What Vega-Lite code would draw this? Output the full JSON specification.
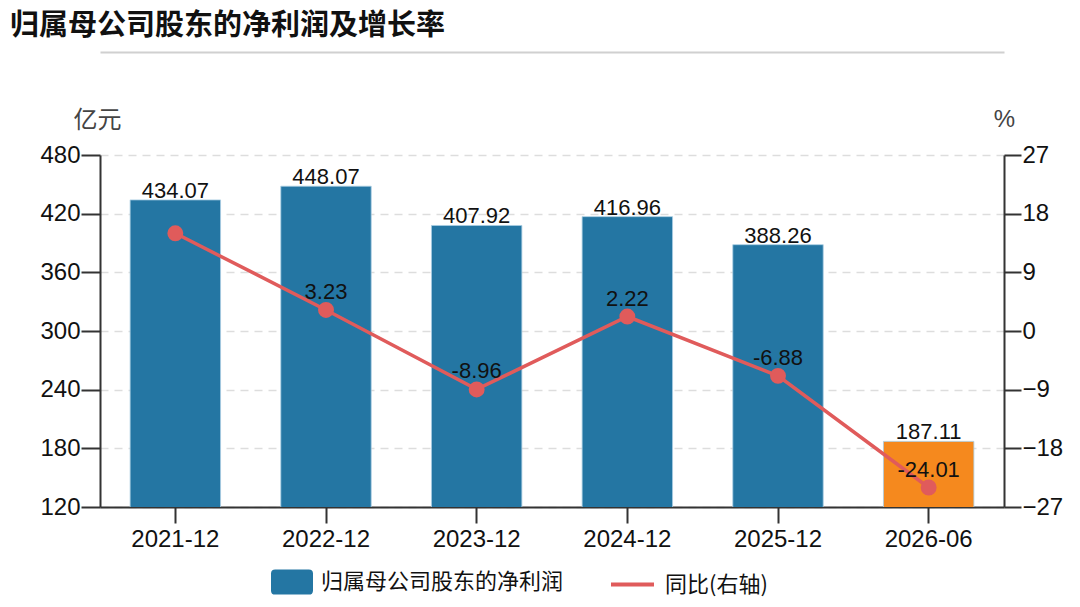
{
  "$schema": "https://vega.github.io/schema/vega-lite/v6.json",
  "width": 904,
  "height": 352,
  "autosize": "none",
  "padding": {"left": 100, "top": 155, "right": 76, "bottom": 100},
  "background": "white",
  "title": {
    "text": "归属母公司股东的净利润及增长率",
    "anchor": "start",
    "frame": "group",
    "dx": -90,
    "offset": 11,
    "font": "Noto Sans CJK SC",
    "fontSize": 29,
    "fontWeight": "bold",
    "color": "#111111"
  },
  "data": {
    "values": [
      {"date": "2021-12", "profit": 434.07, "yoy": 14.99, "yoyLabel": null},
      {"date": "2022-12", "profit": 448.07, "yoy": 3.23, "yoyLabel": "3.23"},
      {"date": "2023-12", "profit": 407.92, "yoy": -8.96, "yoyLabel": "-8.96"},
      {"date": "2024-12", "profit": 416.96, "yoy": 2.22, "yoyLabel": "2.22"},
      {"date": "2025-12", "profit": 388.26, "yoy": -6.88, "yoyLabel": "-6.88"},
      {"date": "2026-06", "profit": 187.11, "yoy": -24.01, "yoyLabel": "-24.01"}
    ]
  },
  "layer": [
    {
      "layer": [
        {
          "mark": {"type": "bar", "clip": true, "stroke": "#a9cde2", "strokeWidth": 1, "strokeOpacity": 0.8},
          "encoding": {
            "x": {
              "field": "date",
              "type": "nominal",
              "sort": null,
              "scale": {"paddingInner": 0.4, "paddingOuter": 0.2},
              "axis": {
                "title": null,
                "orient": "bottom",
                "labelAngle": 0,
                "labelFont": "Liberation Sans",
                "labelFontSize": 24,
                "labelColor": "#111111",
                "labelPadding": 4,
                "tickSize": 16,
                "tickWidth": 2,
                "tickColor": "#333333",
                "domainColor": "#333333",
                "domainWidth": 2,
                "grid": false
              }
            },
            "y": {
              "field": "profit",
              "type": "quantitative",
              "scale": {"domain": [120, 480], "zero": false, "nice": false},
              "axis": {
                "title": "亿元",
                "titleAngle": 0,
                "titleAlign": "left",
                "titleBaseline": "middle",
                "titleX": -27,
                "titleY": -35,
                "titleFont": "Noto Sans CJK SC",
                "titleFontSize": 24,
                "titleFontWeight": "normal",
                "titleColor": "#444444",
                "values": [120, 180, 240, 300, 360, 420, 480],
                "grid": true,
                "gridDash": [8, 6],
                "gridColor": "#dddddd",
                "gridWidth": 1.5,
                "tickSize": 19,
                "tickWidth": 2,
                "tickColor": "#333333",
                "domainColor": "#333333",
                "domainWidth": 2,
                "labelFont": "Liberation Sans",
                "labelFontSize": 24,
                "labelColor": "#111111",
                "labelPadding": 1
              }
            },
            "fill": {
              "condition": {"test": "datum.date === '2026-06'", "value": "#f5891e"},
              "datum": "归属母公司股东的净利润",
              "scale": {"range": ["#2476a3"]},
              "legend": {
                "title": null,
                "orient": "none",
                "direction": "horizontal",
                "legendX": 171,
                "legendY": 406,
                "padding": 0,
                "labelFont": "Noto Sans CJK SC",
                "labelFontSize": 22,
                "labelColor": "#111111",
                "labelLimit": 0,
                "labelOffset": 8,
                "symbolSize": 1764,
                "symbolStrokeWidth": 0,
                "symbolOpacity": 1,
                "symbolType": "M-0.8,-0.6H0.8Q1,-0.6,1,-0.4V0.4Q1,0.6,0.8,0.6H-0.8Q-1,0.6,-1,0.4V-0.4Q-1,-0.6,-0.8,-0.6Z"
              }
            }
          }
        },
        {
          "mark": {"type": "text", "baseline": "alphabetic", "dy": -2, "font": "Liberation Sans", "fontSize": 22, "color": "#111111"},
          "encoding": {
            "x": {
              "field": "date",
              "type": "nominal",
              "sort": null,
              "axis": {
                "orient": "top",
                "offset": 103,
                "title": null,
                "labels": false,
                "ticks": false,
                "grid": false,
                "domain": true,
                "domainColor": "#d0d0d0",
                "domainWidth": 2
              }
            },
            "y": {"field": "profit", "type": "quantitative"},
            "text": {"field": "profit", "type": "quantitative", "format": ".2f"}
          }
        }
      ],
      "resolve": {"axis": {"x": "independent"}}
    },
    {
      "encoding": {
        "x": {"field": "date", "type": "nominal", "sort": null, "axis": null}
      },
      "layer": [
        {
          "mark": {"type": "line", "strokeWidth": 3.5},
          "encoding": {
            "y": {
              "field": "yoy",
              "type": "quantitative",
              "scale": {"domain": [-27, 27], "zero": false, "nice": false},
              "axis": {
                "orient": "right",
                "title": "%",
                "titleAngle": 0,
                "titleAlign": "center",
                "titleBaseline": "middle",
                "titleX": 0,
                "titleY": -36,
                "titleFont": "Liberation Sans",
                "titleFontSize": 24,
                "titleFontWeight": "normal",
                "titleColor": "#444444",
                "values": [-27, -18, -9, 0, 9, 18, 27],
                "grid": false,
                "tickSize": 17,
                "tickWidth": 2,
                "tickColor": "#333333",
                "domainColor": "#333333",
                "domainWidth": 2,
                "labelFont": "Liberation Sans",
                "labelFontSize": 24,
                "labelColor": "#111111",
                "labelPadding": 1
              }
            },
            "stroke": {
              "datum": "同比(右轴)",
              "scale": {"range": ["#e05b5b"]},
              "legend": {
                "title": null,
                "orient": "none",
                "direction": "horizontal",
                "legendX": 509,
                "legendY": 406,
                "padding": 0,
                "labelFont": "Noto Sans CJK SC",
                "labelFontSize": 22,
                "labelColor": "#111111",
                "labelLimit": 0,
                "labelOffset": 9,
                "symbolSize": 1849,
                "symbolStrokeWidth": 4,
                "symbolOpacity": 1,
                "symbolType": "stroke"
              }
            }
          }
        },
        {
          "mark": {"type": "point", "filled": true, "size": 254, "opacity": 1, "color": "#e05b5b"},
          "encoding": {
            "y": {"field": "yoy", "type": "quantitative"}
          }
        },
        {
          "transform": [{"filter": "datum.yoyLabel != null"}],
          "mark": {"type": "text", "baseline": "alphabetic", "dy": -11, "font": "Liberation Sans", "fontSize": 22, "color": "#111111"},
          "encoding": {
            "y": {"field": "yoy", "type": "quantitative"},
            "text": {"field": "yoyLabel", "type": "nominal"}
          }
        }
      ]
    }
  ],
  "resolve": {"scale": {"y": "independent"}, "axis": {"x": "independent"}},
  "config": {
    "view": {"stroke": null},
    "font": "Liberation Sans"
  }
}
